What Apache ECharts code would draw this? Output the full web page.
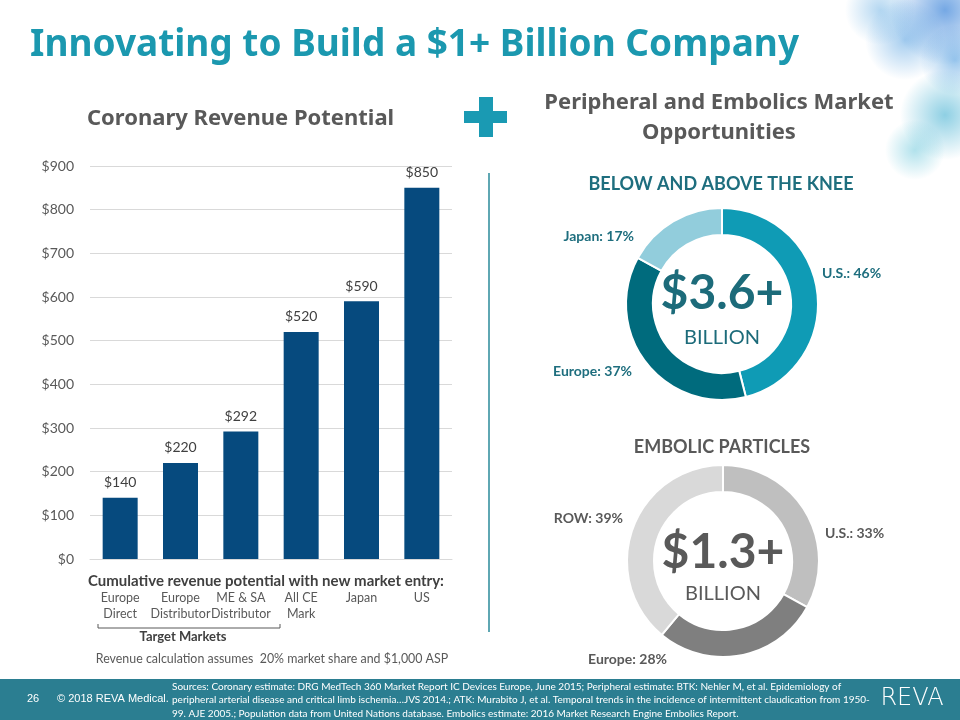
<!DOCTYPE html>
<html><head><meta charset="utf-8">
<script src="https://cdn.jsdelivr.net/npm/echarts@6/dist/echarts.min.js"></script>
<style>html,body{margin:0;padding:0;background:#fff}#c{width:960px;height:720px}</style>
</head><body><div id="c"></div>
<script>
const categories = ['Europe\nDirect', 'Europe\nDistributor', 'ME & SA\nDistributor', 'All CE\nMark', 'Japan', 'US'];
const revenue = [140, 220, 292, 520, 590, 850];
const yTicks = [0, 100, 200, 300, 400, 500, 600, 700, 800, 900];

const kneeNames = ['U.S.', 'Europe', 'Japan'];
const kneeShares = [46, 37, 17];
const embolicNames = ['U.S.', 'Europe', 'ROW'];
const embolicShares = [33, 28, 39];

const F = 'Lato, "Open Sans", sans-serif';
const H = '"Noto Sans", "Open Sans", sans-serif';
const chart = echarts.init(document.getElementById('c'));

function pieSeries(names, vals, colors, center, labelColor, labelPos) {
  return {
    type: 'pie', center: center, radius: [69, 96], startAngle: 90, clockwise: true,
    silent: true,
    itemStyle: { borderColor: '#fff', borderWidth: 2 },
    label: { show: true, position: 'outside', formatter: '{b}: {c}%', fontFamily: F, fontWeight: 'bold', fontSize: 14, color: labelColor },
    labelLine: { show: false },
    labelLayout: p => {
      const lp = labelPos[p.dataIndex];
      return { x: center[0] + lp[0], y: center[1] + lp[1], align: lp[2], verticalAlign: 'middle' };
    },
    data: names.map((n, i) => ({ name: n, value: vals[i], itemStyle: { color: colors[i] } }))
  };
}

const g = [];
// smoke-like background top right
[[945, 10, 55, 0.6, '25,110,210'], [905, 40, 40, 0.4, '30,130,215'], [955, 60, 35, 0.45, '30,130,215'], [945, 115, 45, 0.5, '30,160,200'], [915, 150, 30, 0.35, '30,170,200'], [880, 10, 35, 0.35, '40,140,215']].forEach(([x, y, r, o, c]) => {
  g.push({ type: 'circle', shape: { cx: x, cy: y, r: r }, silent: true, z: -10,
    style: { fill: new echarts.graphic.RadialGradient(0.5, 0.5, 0.5, [{ offset: 0, color: 'rgba(' + c + ',' + o + ')' }, { offset: 1, color: 'rgba(' + c + ',0)' }]) } });
});
g.push({ type: 'text', x: 30, y: 45, style: { text: 'Innovating to Build a $1+ Billion Company', verticalAlign: 'middle', fontFamily: H, fontWeight: 'bold', fontSize: 37, fill: '#1b98af' } });
g.push({ type: 'text', x: 87, y: 119, style: { text: 'Coronary Revenue Potential', verticalAlign: 'middle', fontFamily: H, fontWeight: 'bold', fontSize: 22, fill: '#595959' } });
// plus
g.push({ type: 'rect', shape: { x: 479, y: 97, width: 14, height: 40 }, style: { fill: '#1a9ab3' } });
g.push({ type: 'rect', shape: { x: 464, y: 111, width: 43, height: 12 }, style: { fill: '#1a9ab3' } });
g.push({ type: 'text', x: 719, y: 118, style: { text: 'Peripheral and Embolics Market\nOpportunities', align: 'center', verticalAlign: 'middle', lineHeight: 30, fontFamily: H, fontWeight: 'bold', fontSize: 22, fill: '#595959' } });
// divider
g.push({ type: 'line', shape: { x1: 489, y1: 173, x2: 489, y2: 632 }, style: { stroke: '#2a8a9a', lineWidth: 1.5 } });
g.push({ type: 'text', x: 721, y: 184, style: { text: 'BELOW AND ABOVE THE KNEE', align: 'center', verticalAlign: 'middle', fontFamily: F, fontWeight: 'bold', fontSize: 18, fill: '#1e6e7e' } });
g.push({ type: 'text', x: 722, y: 294, style: { text: '$3.6+', align: 'center', verticalAlign: 'middle', fontFamily: F, fontWeight: 'bold', fontSize: 48, fill: '#1c6b7a' } });
g.push({ type: 'text', x: 722, y: 338, style: { text: 'BILLION', align: 'center', verticalAlign: 'middle', fontFamily: F, fontSize: 20, fill: '#1c6b7a' } });
g.push({ type: 'text', x: 722, y: 447, style: { text: 'EMBOLIC PARTICLES', align: 'center', verticalAlign: 'middle', fontFamily: F, fontWeight: 'bold', fontSize: 18, fill: '#595959' } });
g.push({ type: 'text', x: 723, y: 553, style: { text: '$1.3+', align: 'center', verticalAlign: 'middle', fontFamily: F, fontWeight: 'bold', fontSize: 48, fill: '#595959' } });
g.push({ type: 'text', x: 723, y: 594, style: { text: 'BILLION', align: 'center', verticalAlign: 'middle', fontFamily: F, fontSize: 20, fill: '#595959' } });
// left chart annotations
g.push({ type: 'text', x: 266, y: 581, style: { text: 'Cumulative revenue potential with new market entry:', align: 'center', verticalAlign: 'middle', fontFamily: F, fontWeight: 'bold', fontSize: 15, fill: '#404040' } });
g.push({ type: 'polyline', shape: { points: [[98, 624], [98, 628], [280, 628], [280, 624]] }, style: { stroke: '#595959', lineWidth: 1, fill: null } });
g.push({ type: 'text', x: 183, y: 637, style: { text: 'Target Markets', align: 'center', verticalAlign: 'middle', fontFamily: F, fontWeight: 'bold', fontSize: 13, fill: '#404040' } });
g.push({ type: 'text', x: 272, y: 659, style: { text: 'Revenue calculation assumes  20% market share and $1,000 ASP', align: 'center', verticalAlign: 'middle', fontFamily: F, fontSize: 12.4, fill: '#595959' } });
// footer
g.push({ type: 'rect', shape: { x: 0, y: 679, width: 960, height: 41 }, style: { fill: '#2b7e91' } });
g.push({ type: 'text', x: 33, y: 699, style: { text: '26', align: 'center', verticalAlign: 'middle', fontFamily: '"Liberation Sans", Arial, sans-serif', fontSize: 11, fill: '#fff' } });
g.push({ type: 'text', x: 57, y: 699, style: { text: '© 2018 REVA Medical.', verticalAlign: 'middle', fontFamily: '"Liberation Sans", Arial, sans-serif', fontSize: 11, fill: '#fff' } });
g.push({ type: 'text', x: 172, y: 700, style: { text: 'Sources: Coronary estimate: DRG MedTech 360 Market Report IC Devices Europe, June 2015; Peripheral estimate: BTK: Nehler M, et al. Epidemiology of\nperipheral arterial disease and critical limb ischemia…JVS 2014.; ATK: Murabito J, et al. Temporal trends in the incidence of intermittent claudication from 1950-\n99. AJE 2005.; Population data from United Nations database. Embolics estimate: 2016 Market Research Engine Embolics Report.', verticalAlign: 'middle', lineHeight: 13.5, fontFamily: F, fontSize: 10, fill: '#fff' } });
g.push({ type: 'text', x: 912, y: 699, style: { text: 'REVA', align: 'center', verticalAlign: 'middle', fontFamily: '"DejaVu Sans", sans-serif', fontWeight: 200, fontSize: 24, fill: '#fff' } });

chart.setOption({
  animation: false,
  backgroundColor: '#fff',
  grid: { left: 90, right: 508, top: 166, bottom: 161, containLabel: false },
  xAxis: {
    type: 'category', data: categories,
    axisLine: { show: true, lineStyle: { color: '#d9d9d9' } },
    axisTick: { show: false },
    axisLabel: { margin: 31, lineHeight: 16, fontFamily: F, fontSize: 12.5, color: '#595959', interval: 0 }
  },
  yAxis: {
    type: 'value', min: 0, max: 900, interval: 100,
    axisLine: { show: false }, axisTick: { show: false },
    splitLine: { lineStyle: { color: '#d9d9d9' } },
    axisLabel: { margin: 16, fontFamily: F, fontSize: 14, color: '#595959', formatter: v => yTicks.includes(v) ? '$' + v : '' }
  },
  series: [
    { type: 'bar', data: revenue, barWidth: '58%', itemStyle: { color: '#064a7e' }, silent: true,
      label: { show: true, position: 'top', distance: 8, formatter: p => '$' + p.value, fontFamily: F, fontSize: 14, color: '#404040' } },
    pieSeries(kneeNames, kneeShares, ['#0f9bb5', '#006b7d', '#92cddc'], [722, 304], '#1e6e7e',
      [[100, -31, 'left'], [-90, 67, 'right'], [-88, -68, 'right']]),
    pieSeries(embolicNames, embolicShares, ['#bfbfbf', '#7f7f7f', '#d9d9d9'], [723, 561], '#595959',
      [[102, -28, 'left'], [-56, 98, 'right'], [-100, -43, 'right']])
  ],
  graphic: g
});
</script></body></html>
